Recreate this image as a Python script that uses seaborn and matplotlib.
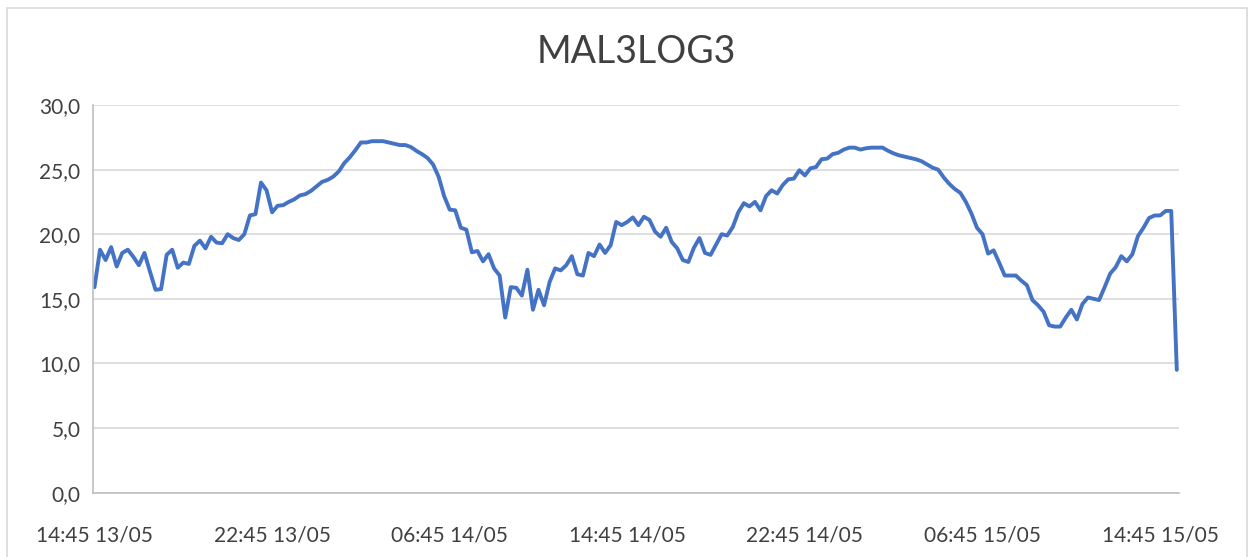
import pandas as pd
import seaborn as sns
import matplotlib.pyplot as plt
import matplotlib.dates as mdates
from matplotlib.patches import Rectangle

# readings every 15 minutes, starting 14:45 13/05
start = "2023-05-13 14:45"
temps = [
    15.9, 18.8, 18.0, 19.0, 17.5, 18.55, 18.8, 18.25, 17.6, 18.55,
    17.1, 15.7, 15.75, 18.4, 18.8, 17.4, 17.8, 17.7, 19.1, 19.5,
    18.9, 19.8, 19.35, 19.3, 20.0, 19.7, 19.55, 20.0, 21.45, 21.55,
    24.0, 23.4, 21.7, 22.2, 22.25, 22.5, 22.7, 23.0, 23.1, 23.35,
    23.7, 24.05, 24.2, 24.45, 24.85, 25.5, 25.95, 26.5, 27.1, 27.1,
    27.2, 27.2, 27.2, 27.1, 27.0, 26.9, 26.9, 26.75, 26.45, 26.2,
    25.9, 25.4, 24.45, 22.95, 21.9, 21.85, 20.5, 20.35, 18.6, 18.7,
    17.9, 18.45, 17.35, 16.8, 13.55, 15.9, 15.85, 15.25, 17.25, 14.15,
    15.7, 14.5, 16.3, 17.35, 17.2, 17.6, 18.3, 16.9, 16.8, 18.55,
    18.3, 19.2, 18.55, 19.15, 20.95, 20.7, 20.95, 21.3, 20.7, 21.35,
    21.1, 20.2, 19.8, 20.5, 19.4, 18.9, 18.0, 17.85, 18.95, 19.7,
    18.55, 18.4, 19.2, 20.0, 19.9, 20.55, 21.7, 22.4, 22.15, 22.5,
    21.85, 22.95, 23.4, 23.15, 23.8, 24.25, 24.3, 24.95, 24.55, 25.1,
    25.2, 25.8, 25.85, 26.2, 26.3, 26.55, 26.7, 26.7, 26.55, 26.65,
    26.7, 26.7, 26.7, 26.45, 26.25, 26.1, 26.0, 25.9, 25.8, 25.65,
    25.4, 25.15, 25.0, 24.4, 23.9, 23.5, 23.2, 22.5, 21.6, 20.5,
    20.0, 18.5, 18.75, 17.8, 16.8, 16.8, 16.8, 16.4, 16.05, 14.9,
    14.5, 14.0, 12.95, 12.85, 12.85, 13.55, 14.15, 13.4, 14.6, 15.1,
    15.0, 14.9, 15.9, 16.95, 17.45, 18.3, 17.9, 18.45, 19.85, 20.5,
    21.25, 21.45, 21.45, 21.8, 21.8, 9.5,
]
times = pd.date_range(start, periods=len(temps), freq="15min")
tick_times = pd.date_range(start, periods=7, freq="8h")
y_ticks = [0, 5, 10, 15, 20, 25, 30]

df = pd.DataFrame({"time": times, "temp": temps})

sns.set_theme(style="white")
plt.rcParams["font.family"] = ["Lato", "DejaVu Sans"]

fig = plt.figure(figsize=(12.54, 5.57), dpi=100)
ax = fig.add_axes([93 / 1254, 64.4 / 557, 1086 / 1254, 387.6 / 557])

sns.lineplot(data=df, x="time", y="temp", ax=ax, color="#4472C4", linewidth=2.8)

ax.set_ylim(0, 30)
ax.set_yticks(y_ticks)
ax.set_yticklabels([f"{v:.1f}".replace(".", ",") for v in y_ticks])
ax.set_xlim(times[0] - pd.Timedelta(minutes=4), times[-1] + pd.Timedelta(minutes=6))
ax.set_xticks(tick_times)
ax.xaxis.set_major_formatter(mdates.DateFormatter("%H:%M %d/%m"))
ax.set_xlabel("")
ax.set_ylabel("")
ax.grid(axis="y", color="#d9d9d9", linewidth=1.2)
ax.grid(axis="x", visible=False)
ax.tick_params(length=0, labelsize=15, labelcolor="#404040")
ax.tick_params(axis="x", pad=24)
ax.tick_params(axis="y", pad=9)
for side in ["top", "right"]:
    ax.spines[side].set_visible(False)
for side in ["left", "bottom"]:
    ax.spines[side].set_color("#bfbfbf")
    ax.spines[side].set_linewidth(1.2)

fig.suptitle("MAL3LOG3", x=636 / 1254, y=1 - 52 / 557, va="center", fontsize=27, color="#404040")
fig.patches.append(Rectangle((7 / 1254, -0.05), 1240 / 1254, 1.05 - 8 / 557,
                             transform=fig.transFigure, fill=False,
                             edgecolor="#d9d9d9", linewidth=1.2))

fig.savefig("out.png", dpi=100)
